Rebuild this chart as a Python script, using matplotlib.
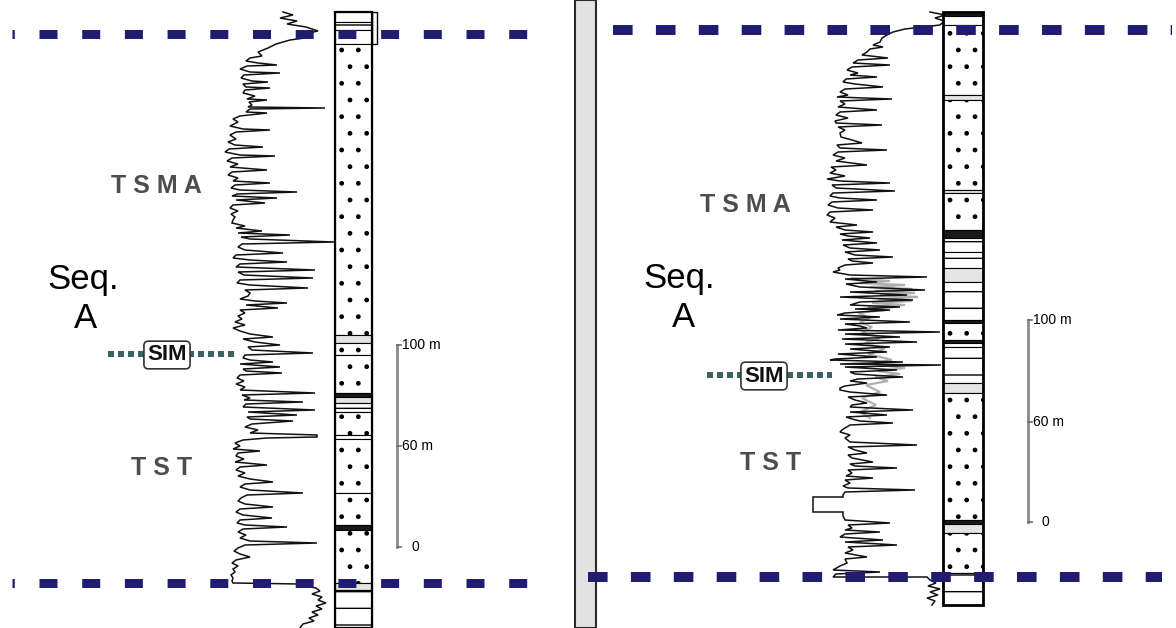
import matplotlib.pyplot as plt
import numpy as np

plt.rcParams['font.family'] = ['Liberation Sans', 'DejaVu Sans']
plt.rcParams['lines.scale_dashes'] = False
plt.rcParams['hatch.linewidth'] = 1.0

PX = 0.72  # points per pixel at 100 dpi
NAVY = '#201c72'
TEAL = '#3b6461'

# gamma-ray logs: (depth row, reading)
left_log = [
    (12, 283), (15, 293), (18, 280), (21, 297), (24, 287), (27, 306), (31, 318), (34, 303),
    (37, 312), (40, 290), (44, 276), (48, 268), (52, 258), (56, 262), (58, 250), (61, 246),
    (63, 258), (65, 277), (66, 247), (69, 240), (72, 250), (73, 280), (75, 244), (78, 241),
    (81, 252), (82, 268), (84, 243), (87, 246), (88, 270), (90, 245), (93, 243), (96, 255),
    (99, 247), (100, 267), (102, 249), (105, 252), (107, 248), (108, 325), (109, 250), (112, 246),
    (113, 267), (116, 240), (119, 233), (122, 238), (126, 230), (129, 243), (130, 270), (132, 236),
    (135, 230), (139, 236), (142, 228), (145, 235), (147, 263), (149, 229), (152, 225), (155, 240),
    (156, 275), (158, 232), (161, 227), (164, 238), (167, 230), (170, 267), (172, 232), (175, 228),
    (178, 238), (181, 233), (183, 270), (185, 235), (188, 231), (190, 240), (192, 297), (194, 237),
    (196, 232), (198, 277), (200, 236), (203, 265), (205, 233), (208, 230), (211, 238), (214, 231),
    (217, 235), (220, 233), (223, 232), (226, 245), (228, 236), (231, 262), (233, 238), (235, 290),
    (237, 241), (239, 250), (242, 334), (244, 242), (247, 238), (250, 245), (253, 283), (255, 236),
    (258, 233), (260, 250), (262, 287), (264, 240), (267, 236), (270, 315), (272, 238), (275, 244),
    (278, 313), (280, 240), (283, 237), (285, 250), (288, 308), (290, 245), (293, 250), (296, 248),
    (299, 240), (301, 255), (303, 287), (305, 246), (308, 278), (310, 240), (313, 245), (316, 238),
    (319, 242), (322, 235), (325, 245), (328, 233), (331, 240), (334, 250), (337, 273), (339, 243),
    (342, 255), (345, 280), (347, 248), (350, 252), (353, 313), (355, 245), (358, 243), (360, 250),
    (362, 273), (364, 240), (367, 280), (369, 243), (371, 246), (373, 282), (375, 240), (378, 237),
    (381, 244), (384, 236), (387, 245), (390, 240), (393, 315), (395, 242), (398, 250), (400, 244),
    (402, 303), (404, 246), (407, 243), (410, 315), (412, 248), (415, 297), (417, 247), (419, 250),
    (421, 293), (424, 252), (427, 245), (430, 258), (433, 250), (435, 317), (437, 317), (438, 267),
    (440, 243), (443, 235), (446, 240), (449, 233), (451, 260), (453, 238), (456, 236), (459, 244),
    (462, 235), (465, 267), (467, 240), (470, 236), (473, 245), (476, 238), (479, 250), (482, 273),
    (484, 245), (487, 240), (490, 250), (493, 303), (495, 247), (498, 241), (501, 238), (504, 245),
    (507, 273), (509, 240), (512, 236), (515, 243), (518, 272), (520, 240), (523, 237), (525, 245),
    (527, 287), (529, 243), (532, 238), (535, 246), (538, 240), (541, 250), (543, 317), (545, 245),
    (548, 238), (551, 234), (554, 240), (557, 250), (560, 236), (563, 232), (566, 238), (569, 233),
    (572, 235), (575, 231), (578, 233), (581, 232), (583, 233), (584, 300), (586, 305), (588, 316),
    (591, 320), (594, 312), (597, 322), (600, 318), (603, 326), (606, 316), (609, 322), (612, 312),
    (615, 318), (618, 309), (621, 314), (624, 303), (628, 300),
]

right_log = [
    (12, 930), (15, 945), (18, 935), (21, 944), (25, 940), (29, 905), (32, 893), (35, 887),
    (38, 882), (42, 880), (45, 873), (47, 883), (49, 870), (52, 867), (55, 862), (58, 888),
    (60, 858), (63, 853), (65, 890), (67, 852), (70, 847), (73, 858), (75, 850), (77, 877),
    (79, 846), (82, 843), (84, 855), (87, 883), (89, 845), (92, 840), (95, 848), (97, 837),
    (99, 892), (101, 840), (104, 845), (107, 838), (110, 877), (112, 840), (115, 836), (118, 848),
    (121, 835), (123, 836), (125, 882), (127, 838), (130, 845), (133, 840), (137, 841), (140, 852),
    (143, 862), (145, 837), (148, 840), (150, 887), (152, 838), (155, 833), (158, 845), (161, 836),
    (165, 867), (167, 831), (170, 836), (173, 830), (176, 845), (179, 827), (181, 840), (183, 890),
    (185, 832), (188, 836), (191, 895), (193, 833), (196, 830), (198, 840), (200, 877), (202, 832),
    (205, 828), (208, 838), (210, 873), (212, 830), (215, 827), (218, 835), (222, 830), (225, 857),
    (227, 836), (230, 845), (232, 873), (234, 840), (236, 848), (238, 870), (240, 842), (243, 877),
    (245, 843), (248, 850), (250, 880), (252, 845), (255, 855), (257, 893), (259, 848), (261, 852),
    (263, 873), (265, 845), (268, 838), (270, 840), (272, 833), (275, 850), (277, 927), (279, 845),
    (282, 877), (284, 846), (287, 860), (290, 925), (292, 850), (295, 907), (297, 840), (300, 913),
    (302, 860), (305, 850), (307, 900), (309, 855), (310, 890), (313, 845), (315, 837), (317, 880),
    (319, 840), (322, 910), (324, 845), (326, 860), (328, 867), (330, 838), (332, 940), (334, 845),
    (337, 900), (339, 842), (342, 917), (344, 845), (347, 890), (349, 850), (352, 887), (354, 838),
    (357, 877), (359, 835), (360, 830), (362, 903), (364, 840), (365, 941), (367, 845), (370, 897),
    (372, 850), (374, 855), (377, 903), (379, 858), (381, 850), (383, 867), (386, 845), (388, 840),
    (390, 840), (392, 850), (395, 887), (397, 848), (400, 855), (403, 867), (405, 852), (407, 850),
    (410, 913), (412, 850), (415, 887), (417, 846), (419, 852), (421, 860), (423, 893), (425, 850),
    (428, 845), (430, 842), (432, 840), (435, 850), (438, 845), (442, 850), (445, 917), (447, 848),
    (450, 855), (453, 867), (455, 848), (458, 852), (462, 873), (464, 850), (466, 855), (468, 897),
    (470, 848), (473, 852), (476, 846), (478, 873), (480, 845), (483, 850), (486, 843), (488, 848),
    (490, 915), (492, 845), (495, 843), (497, 843), (497, 813), (512, 813), (512, 843), (516, 843),
    (520, 845), (523, 890), (525, 848), (528, 852), (530, 845), (532, 880), (534, 845), (537, 840),
    (540, 883), (542, 845), (545, 897), (547, 848), (550, 853), (553, 845), (557, 867), (559, 845),
    (563, 847), (566, 840), (570, 833), (572, 880), (574, 836), (577, 833), (577, 927), (580, 930),
    (583, 936), (586, 928), (589, 940), (592, 930), (595, 938), (598, 927), (601, 935), (605, 932),
]

# faint second log trace in the right well
right_log_gray = [
    (278, 852), (281, 890), (283, 860), (285, 905), (287, 870), (289, 912), (291, 875),
    (293, 915), (295, 880), (297, 918), (299, 878), (301, 912), (303, 872), (305, 905),
    (307, 868), (310, 885), (313, 858), (318, 870), (322, 860), (327, 872), (332, 862),
    (338, 880), (343, 865), (349, 885), (354, 868), (360, 892), (364, 872), (368, 905),
    (371, 878), (374, 900), (377, 875), (381, 888), (385, 866), (392, 880), (398, 862),
    (405, 876), (412, 860), (418, 870),
]

# lithology columns: (top, base, lithology)
left_beds = [
    (12, 22, 'blank'), (22, 30, 'shale'), (30, 44, 'blank'), (44, 335, 'sand'),
    (335, 343, 'thin'), (343, 355, 'sand'), (355, 393, 'sand'), (393, 397, 'dark'),
    (397, 403, 'thin'), (403, 412, 'shale'), (412, 435, 'sand'), (435, 439, 'shale'),
    (439, 493, 'sand'), (493, 525, 'sand'), (525, 530, 'dark'), (530, 583, 'sand'),
    (583, 590, 'thin'), (590, 628, 'shale'),
]
right_beds = [
    (12, 16, 'dark'), (16, 25, 'blank'), (25, 95, 'sand'), (95, 100, 'thin'),
    (100, 190, 'sand'), (190, 193, 'thin'), (193, 230, 'sand'), (230, 238, 'dark'),
    (238, 252, 'shale'), (252, 268, 'shale'), (268, 282, 'thin'), (282, 308, 'shale'),
    (308, 320, 'blank'), (320, 323, 'dark'), (323, 340, 'sand'), (340, 343, 'dark'),
    (343, 347, 'blank'), (347, 383, 'shale'), (383, 393, 'thin'), (393, 520, 'sand'),
    (520, 524, 'dark'), (524, 533, 'thin'), (533, 573, 'sand'), (573, 605, 'shale'),
]

# sequence boundaries and SIM surface (depth rows)
left_bounds = [34, 583]
right_bounds = [30, 577]
left_sim = 354
right_sim = 375

scale_labels = ['0', '60 m', '100 m']
left_scale = [547, 446, 345]
right_scale = [522, 422, 320]

LITHO = {
    'sand': dict(facecolor='white', hatch='.'),
    'shale': dict(facecolor='white', hatch='-'),
    'thin': dict(facecolor='#e4e4e4', hatch=''),
    'dark': dict(facecolor='#1a1a1a', hatch=''),
    'blank': dict(facecolor='white', hatch=''),
}


def draw_log(ax, log, color='#111111', lw=1.1, z=3):
    d = np.array(log, dtype=float)
    ax.plot(d[:, 1], d[:, 0], color=color, lw=lw, zorder=z, solid_joinstyle='miter')


def draw_column(ax, beds, x0, width, lw):
    for top, base, lith in beds:
        ax.bar(x0, base - top, bottom=top, width=width, align='edge',
               edgecolor='black', linewidth=0.8, zorder=2, **LITHO[lith])
    top, base = beds[0][0], beds[-1][1]
    ax.bar(x0, base - top, bottom=top, width=width, align='edge', fill=False,
           edgecolor='black', linewidth=lw, zorder=4)


def boundary(ax, y, x0, x1, lw, on, off, phase):
    ax.plot([x0, x1], [y, y], color=NAVY, lw=lw * PX, dash_capstyle='butt',
            linestyle=(phase * PX, (on * PX, off * PX)), zorder=6)


def sim_marker(ax, y, x0, x1, xc):
    ax.plot([x0, x1], [y, y], color=TEAL, lw=6 * PX, dash_capstyle='butt',
            linestyle=(0, (6 * PX, 4 * PX)), zorder=5)
    ax.text(xc, y + 1, 'SIM', fontsize=16, fontweight='bold', color='#111111',
            ha='center', va='center', zorder=7,
            bbox=dict(boxstyle='round,pad=0.15,rounding_size=0.2', fc='white',
                      ec='#333333', lw=1.2))


def scale_bar(ax, x, rows, label_dx):
    ax.plot([x, x], [rows[0], rows[-1]], color='#8a8a8a', lw=2, zorder=3)
    for r, lab, dx in zip(rows, scale_labels, label_dx):
        ax.plot([x, x + 4], [r, r], color='#6a6a6a', lw=1.2, zorder=3)
        ax.text(x + dx, r, lab, fontsize=10, ha='left', va='center', color='black')


def labels(ax, tsma, seq, a, tst):
    grey = '#4d4d4d'
    ax.text(*tsma, 'T S M A', fontsize=18, fontweight='bold', color=grey, va='baseline')
    ax.text(*seq, 'Seq.', fontsize=25, color='black', va='baseline')
    ax.text(*a, 'A', fontsize=25, color='black', va='baseline', ha='center')
    ax.text(*tst, 'T S T', fontsize=18, fontweight='bold', color=grey, va='baseline')


fig = plt.figure(figsize=(11.76, 6.28), dpi=100)
ax = fig.add_axes([0, 0, 1, 1])
ax.set_xlim(0, 1176)
ax.set_ylim(628, 0)
ax.axis('off')

# left well
draw_log(ax, left_log)
draw_column(ax, left_beds, 335, 37, 1.6)
ax.bar(372, 32, bottom=12, width=5, align='edge', fill=False, edgecolor='black', lw=1, zorder=4)
boundary(ax, left_bounds[0], 12, 530, 9, 18, 24.7, 15.7)
boundary(ax, left_bounds[1], 12, 530, 9, 18, 24.7, 15.7)
sim_marker(ax, left_sim, 108, 236, 167)
scale_bar(ax, 397, left_scale, [14, 5, 5])
labels(ax, (111, 193), (47, 289), (85, 328), (131, 475))

# separator between the two wells
ax.axvspan(575, 596, facecolor='#e2e2e2', edgecolor='#2a2a2a', lw=1.5, zorder=1)

# right well
draw_log(ax, right_log_gray, color='#b0b0b0', lw=1.6, z=2.5)
draw_log(ax, right_log)
draw_column(ax, right_beds, 943, 40, 2)
boundary(ax, right_bounds[0], 613, 1172, 10, 19.6, 23.3, 0)
boundary(ax, right_bounds[1], 588, 1162, 10, 19.6, 23.3, 0)
sim_marker(ax, right_sim, 707, 832, 764)
scale_bar(ax, 1028, right_scale, [13, 5, 5])
labels(ax, (700, 212), (643, 288), (683, 327), (740, 470))

fig.savefig('out.png', dpi=100)
